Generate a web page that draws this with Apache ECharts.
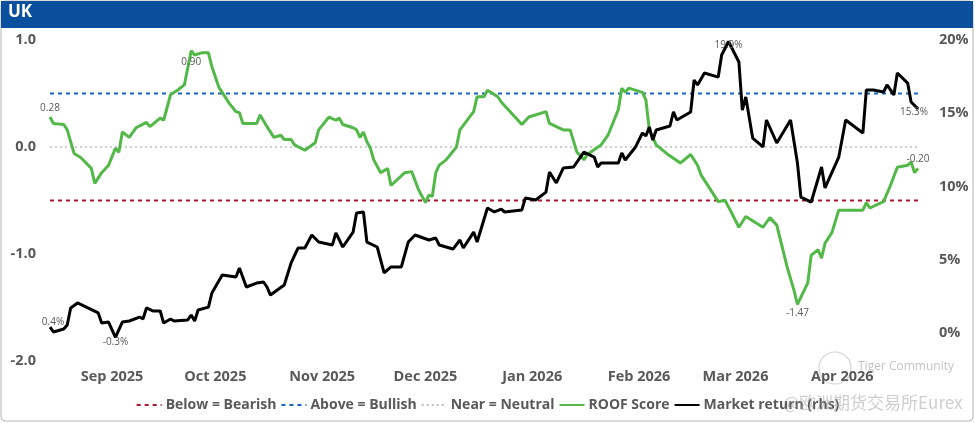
<!DOCTYPE html>
<html><head><meta charset="utf-8">
<script src="https://cdn.jsdelivr.net/npm/echarts@6/dist/echarts.min.js"></script>
<style>html,body{margin:0;padding:0;background:#fff}#c{width:975px;height:423px}</style>
</head><body><div id="c"></div>
<script>
// ROOF score (left axis)
const roofDates = ['2025-08-14','2025-08-15','2025-08-18','2025-08-19','2025-08-21','2025-08-23','2025-08-26','2025-08-27','2025-08-29','2025-08-31',
'2025-09-02','2025-09-03','2025-09-04','2025-09-06','2025-09-08','2025-09-11','2025-09-12','2025-09-15','2025-09-16','2025-09-18','2025-09-20','2025-09-22','2025-09-24','2025-09-25','2025-09-27','2025-09-29','2025-09-30',
'2025-10-02','2025-10-05','2025-10-07','2025-10-08','2025-10-09','2025-10-13','2025-10-14','2025-10-16','2025-10-18','2025-10-20','2025-10-21','2025-10-23','2025-10-24','2025-10-27','2025-10-30','2025-10-31',
'2025-11-03','2025-11-05','2025-11-06','2025-11-07','2025-11-10','2025-11-11','2025-11-12','2025-11-13','2025-11-14','2025-11-15','2025-11-16','2025-11-18','2025-11-20','2025-11-21','2025-11-25','2025-11-27','2025-11-29',
'2025-12-01','2025-12-02','2025-12-03','2025-12-04','2025-12-05','2025-12-07','2025-12-10','2025-12-11','2025-12-15','2025-12-16','2025-12-18','2025-12-19','2025-12-22','2025-12-23','2025-12-25','2025-12-29','2025-12-31',
'2026-01-05','2026-01-06','2026-01-08','2026-01-10','2026-01-12','2026-01-14','2026-01-16','2026-01-17','2026-01-21','2026-01-23','2026-01-26','2026-01-27','2026-01-28','2026-01-29',
'2026-02-02','2026-02-03','2026-02-04','2026-02-06','2026-02-09','2026-02-13','2026-02-16','2026-02-18','2026-02-19','2026-02-24','2026-02-26','2026-02-27',
'2026-03-02','2026-03-04','2026-03-09','2026-03-11','2026-03-13','2026-03-16','2026-03-18','2026-03-19','2026-03-22','2026-03-23','2026-03-25','2026-03-26','2026-03-27','2026-03-29','2026-03-31',
'2026-04-07','2026-04-08','2026-04-09','2026-04-13','2026-04-15','2026-04-17','2026-04-20','2026-04-21','2026-04-22','2026-04-23'];
const roofValues = [0.28,0.22,0.21,0.16,-0.06,-0.10,-0.20,-0.34,-0.24,-0.17,
-0.01,-0.05,0.14,0.09,0.18,0.23,0.19,0.27,0.25,0.49,0.53,0.58,0.90,0.86,0.88,0.88,0.75,
0.56,0.41,0.33,0.32,0.22,0.22,0.30,0.19,0.09,0.11,0.07,0.07,0.02,-0.03,0.04,0.16,
0.28,0.25,0.27,0.21,0.18,0.16,0.09,0.14,0.05,-0.01,-0.12,-0.24,-0.20,-0.36,-0.24,-0.23,-0.40,
-0.52,-0.45,-0.46,-0.24,-0.17,-0.12,0.00,0.16,0.33,0.47,0.47,0.53,0.47,0.42,0.35,0.21,0.28,
0.33,0.22,0.19,0.16,0.16,-0.05,-0.12,-0.07,0.02,0.11,0.35,0.55,0.51,0.55,
0.51,0.44,0.16,0.02,-0.06,-0.15,-0.07,-0.17,-0.26,-0.51,-0.50,-0.56,
-0.75,-0.65,-0.75,-0.66,-0.73,-1.12,-1.34,-1.47,-1.27,-1.01,-0.96,-1.04,-0.90,-0.80,-0.59,
-0.59,-0.52,-0.57,-0.51,-0.36,-0.19,-0.17,-0.14,-0.24,-0.20];

// Market return, % (right axis)
const mktDates = ['2025-08-14','2025-08-15','2025-08-18','2025-08-19','2025-08-20','2025-08-22','2025-08-28','2025-08-29','2025-08-31',
'2025-09-02','2025-09-04','2025-09-06','2025-09-09','2025-09-10','2025-09-11','2025-09-13','2025-09-15','2025-09-16','2025-09-18','2025-09-19','2025-09-23','2025-09-24','2025-09-25','2025-09-26','2025-09-29','2025-09-30',
'2025-10-01','2025-10-03','2025-10-07','2025-10-08','2025-10-10','2025-10-13','2025-10-15','2025-10-16','2025-10-17','2025-10-21','2025-10-23','2025-10-25','2025-10-27','2025-10-29','2025-10-31',
'2025-11-04','2025-11-05','2025-11-07','2025-11-10','2025-11-11','2025-11-13','2025-11-14','2025-11-17','2025-11-19','2025-11-21','2025-11-24','2025-11-26','2025-11-28',
'2025-12-02','2025-12-04','2025-12-05','2025-12-09','2025-12-11','2025-12-12','2025-12-15','2025-12-16','2025-12-19','2025-12-21','2025-12-23','2025-12-24','2025-12-29','2025-12-30',
'2026-01-02','2026-01-05','2026-01-06','2026-01-08','2026-01-10','2026-01-13','2026-01-16','2026-01-19','2026-01-20','2026-01-21','2026-01-26','2026-01-27','2026-01-28','2026-01-31',
'2026-02-02','2026-02-03','2026-02-04','2026-02-05','2026-02-06','2026-02-10','2026-02-11','2026-02-12','2026-02-13','2026-02-16','2026-02-17','2026-02-18','2026-02-20','2026-02-24','2026-02-25','2026-02-27',
'2026-03-02','2026-03-03','2026-03-04','2026-03-06','2026-03-09','2026-03-10','2026-03-13','2026-03-17','2026-03-19','2026-03-20','2026-03-23','2026-03-26','2026-03-27','2026-03-31',
'2026-04-02','2026-04-07','2026-04-08','2026-04-10','2026-04-13','2026-04-14','2026-04-16','2026-04-17','2026-04-20','2026-04-21','2026-04-23'];
const mktValues = [0.4,0.07,0.27,0.55,1.71,2.05,1.37,0.68,0.75,
-0.3,0.75,0.82,1.09,0.96,1.71,1.50,1.50,0.68,0.96,0.82,0.89,1.23,0.82,1.57,1.77,2.73,
3.14,3.96,3.82,4.44,3.14,3.41,3.48,3.14,2.59,3.28,4.78,5.80,5.80,6.69,6.21,
6.01,6.83,5.87,6.89,8.19,8.26,6.21,5.87,4.10,4.51,4.51,6.21,6.69,
6.35,6.48,6.01,5.73,6.35,5.80,6.89,6.21,8.53,8.26,8.46,8.26,8.40,9.22,
9.08,9.62,10.99,10.24,11.26,11.33,12.35,12.01,11.33,11.60,11.60,12.29,11.81,12.70,
13.65,13.45,14.06,13.17,13.86,14.13,15.09,14.54,14.68,15.09,17.27,16.93,17.75,17.47,18.98,19.9,
18.50,15.22,16.11,13.31,12.70,14.54,12.97,14.54,11.60,9.28,8.94,11.33,9.90,12.01,
14.54,13.65,16.59,16.59,16.45,16.93,16.25,17.75,17.06,15.77,15.3];

const axisStart = '2025-08-14';
const axisEnd = '2026-04-23';
const monthTicks = ['2025-09-01','2025-10-01','2025-11-01','2025-12-01','2026-01-01','2026-02-01','2026-03-01','2026-04-01'];
const monthNames = ['Jan','Feb','Mar','Apr','May','Jun','Jul','Aug','Sep','Oct','Nov','Dec'];
const rightTicks = [0,5,10,15,20];
const bearishLevel = -0.5;
const bullishLevel = 0.5;
const neutralLevel = 0;

function ts(s){ const p=s.split('-').map(Number); return new Date(p[0],p[1]-1,p[2]).getTime(); }

const labelStyle = {color:'#595959', fontSize:10, fontFamily:'Open Sans'};
function withLabels(dates, values, fmt, pos){
  let iMax=0,iMin=0;
  values.forEach((v,i)=>{ if(v>values[iMax]) iMax=i; if(v<values[iMin]) iMin=i; });
  const last=values.length-1;
  const spec={}; spec[0]=pos.first; spec[iMax]=pos.max; spec[iMin]=pos.min; spec[last]=pos.last;
  return values.map((v,i)=>{
    const item={value:[ts(dates[i]),v]};
    if(spec[i]) item.label=Object.assign({show:true,formatter:fmt(v)},labelStyle,spec[i]);
    return item;
  });
}

const roofData = withLabels(roofDates, roofValues, v=>v.toFixed(2), {
  first:{position:'top',distance:4},
  max:{position:'inside',offset:[0,11]},
  min:{position:'bottom',distance:4},
  last:{position:'top',distance:4}
});
const mktData = withLabels(mktDates, mktValues, v=>v.toFixed(1)+'%', {
  first:{position:'top',distance:0,offset:[3,0]},
  max:{position:'inside',offset:[0,4]},
  min:{position:'bottom',distance:0},
  last:{position:'bottom',distance:0,offset:[-4,-2]}
});

function flat(level){ return [[ts(axisStart),level],[ts(axisEnd),level]]; }

const chart = echarts.init(document.getElementById('c'));
const font = 'Open Sans';
chart.setOption({
  animation:false,
  backgroundColor:'#fff',
  textStyle:{fontFamily:font},
  grid:{left:50,right:57,top:40,bottom:62},
  graphic:[
    {type:'rect',shape:{x:1,y:1,width:972,height:420,r:4},style:{fill:'none',stroke:'#b4b4b4',lineWidth:1},z:-1},
    {type:'rect',shape:{x:1,y:1,width:972,height:27},style:{fill:'#0A4E9E'},z:0},
    {type:'text',left:8,top:4,style:{text:'UK',fill:'#fff',font:'bold 17px "Open Sans"'}},
    {type:'circle',shape:{cx:835,cy:368,r:16},style:{fill:'none',stroke:'rgba(170,170,170,0.5)',lineWidth:1.2}},
    {type:'text',left:858,top:361,style:{text:'Tiger Community',fill:'rgba(170,170,170,0.7)',font:'12px "Open Sans"'}},
    {type:'text',left:783,top:394,style:{text:'@欧洲期货交易所Eurex',fill:'rgba(165,165,165,0.55)',font:'17px "Noto Sans CJK SC"'},z:10}
  ],
  legend:{
    bottom:6,left:'center',itemWidth:25,itemHeight:10,itemGap:4,
    itemStyle:{opacity:0},
    textStyle:{color:'#595959',fontSize:14,fontWeight:'bold',fontFamily:font,padding:[0,0,0,-1]},
    data:['Below = Bearish','Above = Bullish','Near = Neutral','ROOF Score','Market return (rhs)']
  },
  xAxis:{
    type:'value',min:ts(axisStart),max:ts(axisEnd),
    axisLine:{show:false},axisTick:{show:false},splitLine:{show:false},
    axisLabel:{
      customValues:monthTicks.map(ts),
      formatter:v=>{const d=new Date(v);return monthNames[d.getMonth()]+' '+d.getFullYear();},
      color:'#595959',fontSize:14.5,fontWeight:'bold',fontFamily:font,margin:8,hideOverlap:false
    }
  },
  yAxis:[
    {type:'value',min:-2,max:1,interval:1,
     axisLine:{show:false},axisTick:{show:false},splitLine:{show:false},
     axisLabel:{formatter:v=>v.toFixed(1),color:'#595959',fontSize:14.5,fontWeight:'bold',fontFamily:font,margin:14}},
    {type:'value',min:-1.911,max:20,position:'right',
     axisLine:{show:false},axisTick:{show:false},splitLine:{show:false},
     axisLabel:{customValues:rightTicks,formatter:v=>v+'%',color:'#595959',fontSize:14.5,fontWeight:'bold',fontFamily:font,margin:21}}
  ],
  series:[
    {name:'Below = Bearish',type:'line',data:flat(bearishLevel),symbol:'none',lineStyle:{color:'#B0152F',width:2,type:[4,4]},itemStyle:{color:'#B0152F'},silent:true,z:1},
    {name:'Above = Bullish',type:'line',data:flat(bullishLevel),symbol:'none',lineStyle:{color:'#1466C0',width:2,type:[4,4]},itemStyle:{color:'#1466C0'},silent:true,z:1},
    {name:'Near = Neutral',type:'line',data:flat(neutralLevel),symbol:'none',lineStyle:{color:'#BDBDBD',width:1.5,type:[2,3]},itemStyle:{color:'#BDBDBD'},silent:true,z:1},
    {name:'ROOF Score',type:'line',data:roofData,symbol:'circle',symbolSize:0.1,showSymbol:true,
     lineStyle:{color:'#52B848',width:3},itemStyle:{color:'#52B848'},z:3},
    {name:'Market return (rhs)',type:'line',yAxisIndex:1,data:mktData,symbol:'circle',symbolSize:0.1,showSymbol:true,
     lineStyle:{color:'#000',width:3},itemStyle:{color:'#000'},z:4}
  ]
});
</script></body></html>
